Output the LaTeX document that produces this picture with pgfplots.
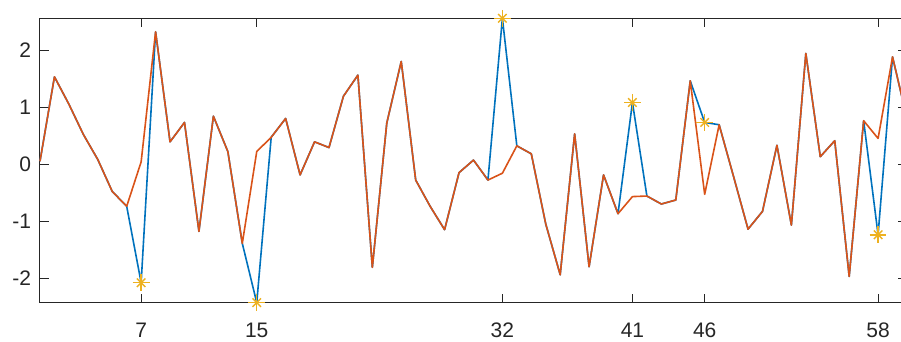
\documentclass[border=0pt]{standalone}
\usepackage{fontspec}
\setmainfont{Liberation Sans}
\usepackage{pgfplots}
\usepackage{pgfplotstable}
\pgfplotsset{compat=1.18}
\definecolor{mblue}{rgb}{0,0.447,0.741}
\definecolor{morange}{rgb}{0.85,0.325,0.098}
\definecolor{myellow}{rgb}{0.929,0.694,0.125}
\definecolor{maxis}{rgb}{0.15,0.15,0.15}

\pgfplotstableread{
x y
0 0.05
1 1.53
2 1.05
3 0.52
4 0.08
5 -0.48
6 -0.74
7 -2.08
8 2.32
9 0.39
10 0.73
11 -1.18
12 0.84
13 0.22
14 -1.39
15 -2.43
16 0.47
17 0.80
18 -0.19
19 0.39
20 0.29
21 1.19
22 1.56
23 -1.81
24 0.72
25 1.80
26 -0.28
27 -0.74
28 -1.15
29 -0.15
30 0.07
31 -0.28
32 2.556
33 0.32
34 0.18
35 -1.05
36 -1.94
37 0.53
38 -1.80
39 -0.19
40 -0.87
41 1.08
42 -0.56
43 -0.70
44 -0.63
45 1.46
46 0.73
47 0.69
48 -0.22
49 -1.14
50 -0.83
51 0.33
52 -1.07
53 1.94
54 0.13
55 0.41
56 -1.97
57 0.76
58 -1.24
59 1.88
60 0.80
}\orig

\pgfplotstableread{
x y
0 0.05
1 1.53
2 1.05
3 0.52
4 0.08
5 -0.48
6 -0.74
7 0.04
8 2.32
9 0.39
10 0.73
11 -1.18
12 0.84
13 0.22
14 -1.39
15 0.22
16 0.47
17 0.80
18 -0.19
19 0.39
20 0.29
21 1.19
22 1.56
23 -1.81
24 0.72
25 1.80
26 -0.28
27 -0.74
28 -1.15
29 -0.15
30 0.07
31 -0.28
32 -0.16
33 0.32
34 0.18
35 -1.05
36 -1.94
37 0.53
38 -1.80
39 -0.19
40 -0.87
41 -0.57
42 -0.56
43 -0.70
44 -0.63
45 1.46
46 -0.53
47 0.69
48 -0.22
49 -1.14
50 -0.83
51 0.33
52 -1.07
53 1.94
54 0.13
55 0.41
56 -1.97
57 0.76
58 0.45
59 1.88
60 0.80
}\filled

\pgfplotstableread{
x y
7 -2.08
15 -2.43
32 2.556
41 1.08
46 0.73
58 -1.24
}\outl

\begin{document}
\begin{tikzpicture}
\begin{axis}[
  scale only axis,
  width=433.5pt, height=142.2pt,
  xmin=0, xmax=60, ymin=-2.43, ymax=2.556,
  xtick={7,15,32,41,46,58},
  ytick={-2,-1,0,1,2},
  tick align=inside,
  major tick length=4.5pt,
  axis line style={maxis, line width=0.5pt},
  tick style={maxis, line width=0.5pt},
  tick label style={font=\fontsize{10.5}{12}\selectfont, text=maxis},
  /pgf/number format/assume math mode=true,
  xticklabel style={yshift=-6.5pt},
  yticklabel style={xshift=-1pt},
  clip=false,
]
\addplot[mblue, line width=0.8pt, line join=round, no markers] table[x=x,y=y] {\orig};
\addplot[morange, line width=0.8pt, line join=round, no markers] table[x=x,y=y] {\filled};
\addplot[only marks, mark=+, mark size=4.2pt, myellow, mark options={line width=0.7pt}] table[x=x,y=y] {\outl};
\addplot[only marks, mark=x, mark size=3pt, myellow, mark options={line width=0.7pt}] table[x=x,y=y] {\outl};
\end{axis}
\pgfresetboundingbox
\path[use as bounding box] (current axis.south west) ++(-20pt,-19.65pt) rectangle ++(450.5pt,171pt);
\end{tikzpicture}
\end{document}
